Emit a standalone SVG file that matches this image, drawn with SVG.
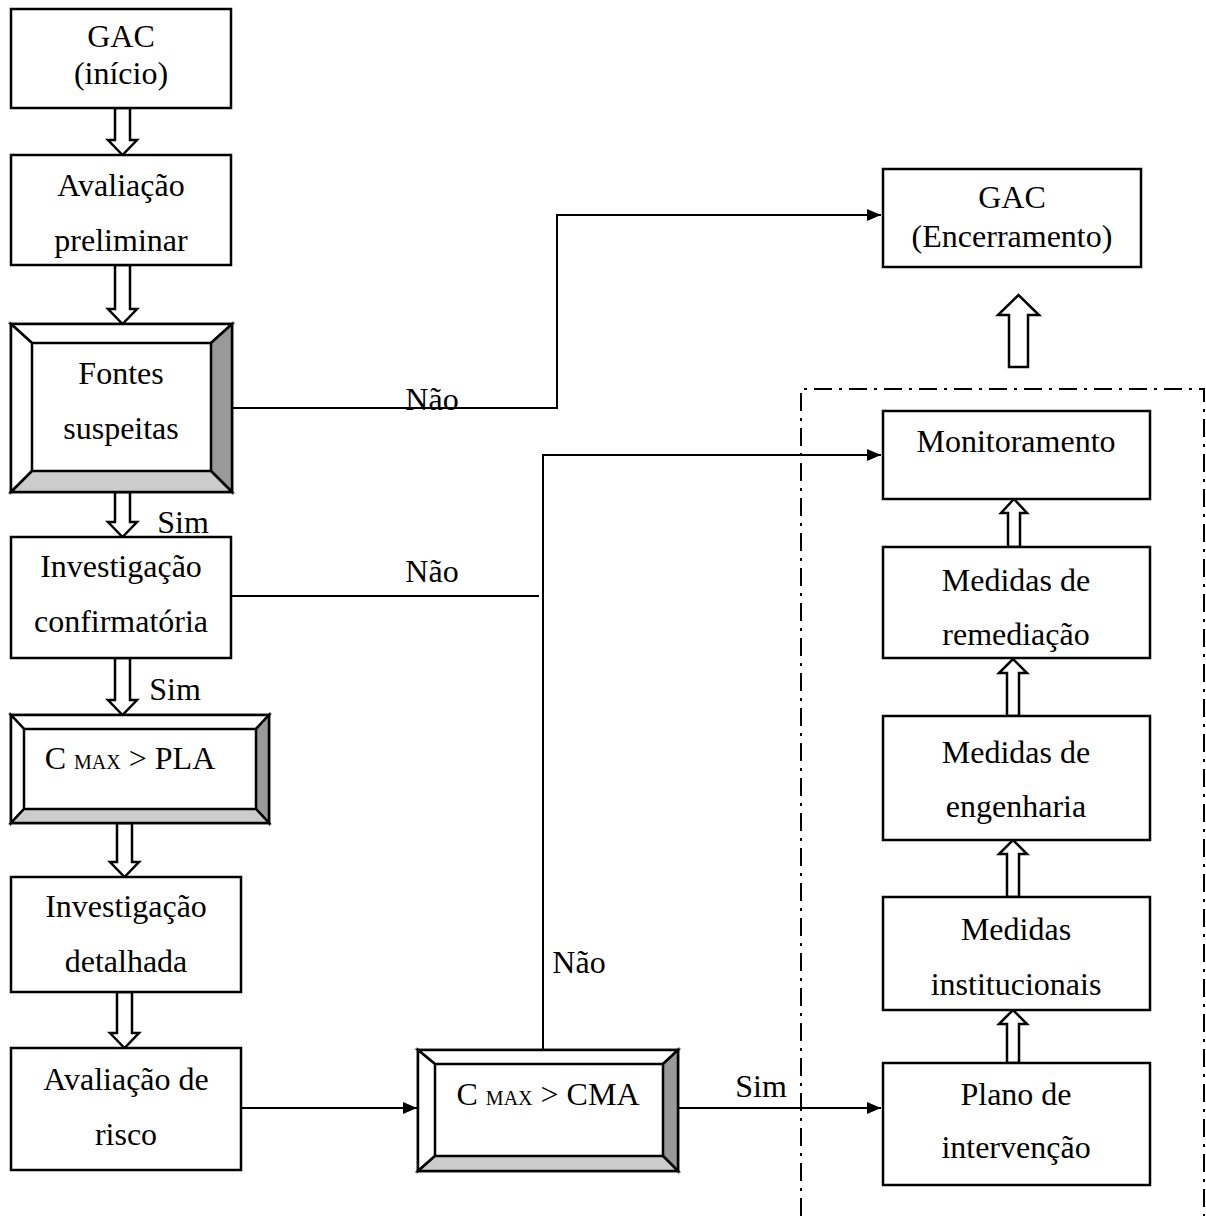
<svg xmlns="http://www.w3.org/2000/svg" width="1206" height="1216" viewBox="0 0 1206 1216">
<defs>
<style>
.box{fill:#fff;stroke:#000;stroke-width:2.5}
.bev{stroke:#000;stroke-width:2.5;stroke-linejoin:miter}
.t{font-family:"Liberation Serif","Times New Roman",serif;font-size:32px;fill:#000;text-anchor:middle}
.sub{font-size:20px}
.ln{fill:none;stroke:#000;stroke-width:2}
.ha{fill:#fff;stroke:#000;stroke-width:2.5;stroke-linejoin:miter}
.dd{fill:none;stroke:#000;stroke-width:2;stroke-dasharray:18 7 3 7}
</style>
<marker id="ah" viewBox="0 0 14 12" refX="14" refY="6" markerWidth="14" markerHeight="12" markerUnits="userSpaceOnUse" orient="auto">
<path d="M0,0 L14,6 L0,12 Z" fill="#000"/>
</marker>
</defs>

<g id="boundary">
<path class="dd" d="M801,1216 L801,389 L1204,389 L1204,1216"/>
</g>

<g id="connectors">
<path class="ln" d="M232,408 L557,408 L557,215 L881,215" marker-end="url(#ah)"/>
<path class="ln" d="M232,596 L539,596"/>
<path class="ln" d="M543,1050 L543,455 L881,455" marker-end="url(#ah)"/>
<path class="ln" d="M242,1108 L417,1108" marker-end="url(#ah)"/>
<path class="ln" d="M679,1108 L881,1108" marker-end="url(#ah)"/>
<path class="ha" d="M115,108 L130,108 L130,140 L137,140 L122.5,155 L108,140 L115,140 Z"/>
<path class="ha" d="M115,265 L130,265 L130,309 L137,309 L122.5,324 L108,309 L115,309 Z"/>
<path class="ha" d="M115,492 L130,492 L130,522 L137,522 L122.5,537 L108,522 L115,522 Z"/>
<path class="ha" d="M115,658 L130,658 L130,700 L137,700 L122.5,715 L108,700 L115,700 Z"/>
<path class="ha" d="M117,823 L132,823 L132,862 L139,862 L124.5,877 L110,862 L117,862 Z"/>
<path class="ha" d="M117,992 L132,992 L132,1033 L139,1033 L124.5,1048 L110,1033 L117,1033 Z"/>
<path class="ha" d="M1009,367 L1028,367 L1028,315 L1039,315 L1018.5,295 L998,315 L1009,315 Z"/>
<path class="ha" d="M1008,547 L1020,547 L1020,513 L1027,513 L1014,499 L1001,513 L1008,513 Z"/>
<path class="ha" d="M1007,716 L1019,716 L1019,673 L1027,673 L1013,659 L999,673 L1007,673 Z"/>
<path class="ha" d="M1007,897 L1019,897 L1019,854 L1027,854 L1013,840 L999,854 L1007,854 Z"/>
<path class="ha" d="M1007,1063 L1019,1063 L1019,1024 L1027,1024 L1013,1010 L999,1024 L1007,1024 Z"/>
</g>

<g id="labels">
<text class="t" x="432" y="410">Não</text>
<text class="t" x="183" y="533">Sim</text>
<text class="t" x="432" y="582">Não</text>
<text class="t" x="175" y="700">Sim</text>
<text class="t" x="579" y="973">Não</text>
<text class="t" x="761" y="1097">Sim</text>
</g>

<g id="n-gac-inicio">
<rect class="box" x="11" y="9" width="220" height="99"/>
<text class="t" x="121" y="47">GAC</text>
<text class="t" x="121" y="84">(início)</text>
</g>

<g id="n-avaliacao-preliminar">
<rect class="box" x="11" y="155" width="220" height="110"/>
<text class="t" x="121" y="196">Avaliação</text>
<text class="t" x="121" y="251">preliminar</text>
</g>

<g id="n-fontes-suspeitas">
<rect class="box" x="11" y="324" width="221" height="168"/>
<path class="bev" fill="#fff" d="M11,324 L232,324 L211,343 L32,343 Z"/>
<path class="bev" fill="#fff" d="M11,324 L32,343 L32,471 L11,492 Z"/>
<path class="bev" fill="#999" d="M232,324 L232,492 L211,471 L211,343 Z"/>
<path class="bev" fill="#ccc" d="M11,492 L232,492 L211,471 L32,471 Z"/>
<text class="t" x="121" y="384">Fontes</text>
<text class="t" x="121" y="439">suspeitas</text>
</g>

<g id="n-investigacao-confirmatoria">
<rect class="box" x="11" y="537" width="220" height="121"/>
<text class="t" x="121" y="577">Investigação</text>
<text class="t" x="121" y="632">confirmatória</text>
</g>

<g id="n-cmax-pla">
<rect class="box" x="11" y="715" width="258" height="108"/>
<path class="bev" fill="#fff" d="M11,715 L269,715 L256,729 L24,729 Z"/>
<path class="bev" fill="#fff" d="M11,715 L24,729 L24,809 L11,823 Z"/>
<path class="bev" fill="#999" d="M269,715 L269,823 L256,809 L256,729 Z"/>
<path class="bev" fill="#ccc" d="M11,823 L269,823 L256,809 L24,809 Z"/>
<text class="t" x="130" y="769">C <tspan class="sub">MAX</tspan> &gt; PLA</text>
</g>

<g id="n-investigacao-detalhada">
<rect class="box" x="11" y="877" width="230" height="115"/>
<text class="t" x="126" y="917">Investigação</text>
<text class="t" x="126" y="972">detalhada</text>
</g>

<g id="n-avaliacao-risco">
<rect class="box" x="11" y="1048" width="230" height="122"/>
<text class="t" x="126" y="1090">Avaliação de</text>
<text class="t" x="126" y="1145">risco</text>
</g>

<g id="n-cmax-cma">
<rect class="box" x="418" y="1050" width="260" height="121"/>
<path class="bev" fill="#fff" d="M418,1050 L678,1050 L663,1064 L435,1064 Z"/>
<path class="bev" fill="#fff" d="M418,1050 L435,1064 L435,1156 L418,1171 Z"/>
<path class="bev" fill="#999" d="M678,1050 L678,1171 L663,1156 L663,1064 Z"/>
<path class="bev" fill="#ccc" d="M418,1171 L678,1171 L663,1156 L435,1156 Z"/>
<text class="t" x="548" y="1105">C <tspan class="sub">MAX</tspan> &gt; CMA</text>
</g>

<g id="n-gac-encerramento">
<rect class="box" x="883" y="169" width="258" height="98"/>
<text class="t" x="1012" y="208">GAC</text>
<text class="t" x="1012" y="247">(Encerramento)</text>
</g>

<g id="n-monitoramento">
<rect class="box" x="883" y="411" width="267" height="88"/>
<text class="t" x="1016" y="452">Monitoramento</text>
</g>

<g id="n-medidas-remediacao">
<rect class="box" x="883" y="547" width="267" height="111"/>
<text class="t" x="1016" y="591">Medidas de</text>
<text class="t" x="1016" y="645">remediação</text>
</g>

<g id="n-medidas-engenharia">
<rect class="box" x="883" y="716" width="267" height="124"/>
<text class="t" x="1016" y="763">Medidas de</text>
<text class="t" x="1016" y="817">engenharia</text>
</g>

<g id="n-medidas-institucionais">
<rect class="box" x="883" y="897" width="267" height="113"/>
<text class="t" x="1016" y="940">Medidas</text>
<text class="t" x="1016" y="995">institucionais</text>
</g>

<g id="n-plano-intervencao">
<rect class="box" x="883" y="1063" width="267" height="122"/>
<text class="t" x="1016" y="1105">Plano de</text>
<text class="t" x="1016" y="1158">intervenção</text>
</g>
</svg>
